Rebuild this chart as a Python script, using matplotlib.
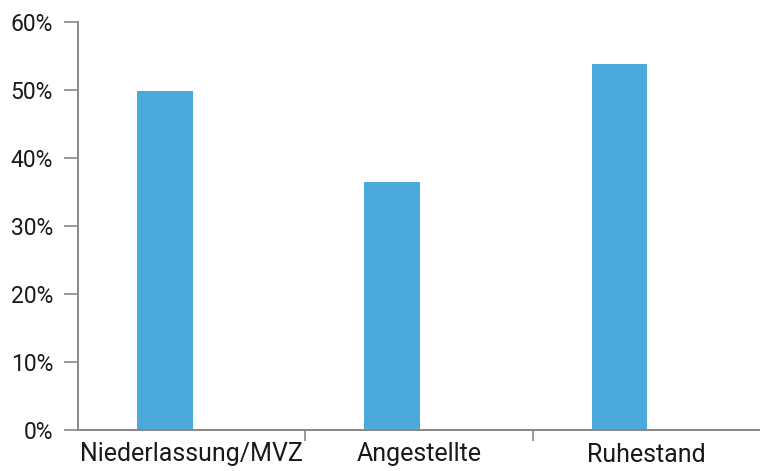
import numpy as np
import matplotlib
matplotlib.use("Agg")
import matplotlib.pyplot as plt
from matplotlib.ticker import PercentFormatter

plt.rcParams["font.family"] = ["Roboto", "DejaVu Sans"]

# Anteile je Gruppe (in %)
categories = ["Niederlassung/MVZ", "Angestellte", "Ruhestand"]
values = [49.8, 36.5, 53.8]

bar_color = "#4ba9dc"
axis_color = "#8c8585"

fig = plt.figure(figsize=(7.6, 4.71), dpi=100)
ax = fig.add_axes([78 / 760, 41 / 471, 1 - 78 / 760, 408 / 471])

x = np.arange(len(categories))
# Balken sitzen links in ihrer Kategorie (zweite Reihe leer)
ax.bar(x - 0.118, values, width=0.245, color=bar_color, zorder=2)

ax.set_xlim(-0.5, 2.5)
ax.set_ylim(0, 60)
ax.set_yticks(np.arange(0, 61, 10))
ax.yaxis.set_major_formatter(PercentFormatter(decimals=0))

ax.set_xticks(x)
ax.set_xticklabels(categories)
# Trennstriche zwischen den Kategorien
ax.set_xticks(x[:-1] + 0.5, minor=True)
ax.tick_params(axis="x", which="major", length=0, pad=9, labelsize=18, colors="#1a1a1a")
ax.tick_params(axis="x", which="minor", length=8, width=1.2, color=axis_color)
ax.tick_params(axis="y", length=10, width=1.2, color=axis_color, pad=8,
               labelsize=16.5, labelcolor="#1a1a1a")

for side in ["top", "right"]:
    ax.spines[side].set_visible(False)
for side in ["left", "bottom"]:
    ax.spines[side].set_color(axis_color)
    ax.spines[side].set_linewidth(1.4)

fig.savefig("out.png", dpi=100, facecolor="white")
